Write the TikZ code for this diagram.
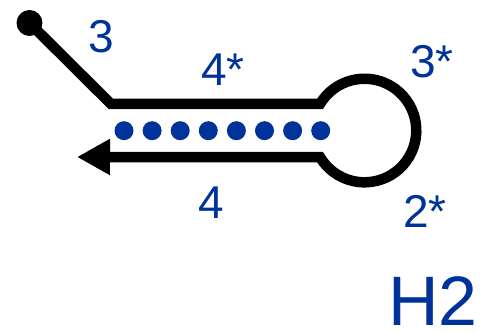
\documentclass[tikz,border=0pt]{standalone}
\usepackage{fontspec}
\setmainfont{Liberation Sans}
\usetikzlibrary{arrows.meta}
\definecolor{lblblue}{RGB}{0,51,153}
\definecolor{dotblue}{RGB}{0,51,153}
\tikzset{
  strand/.style={line width=10.5pt, draw=black, line join=miter},
  lbl/.style={inner sep=0pt, anchor=base west, text=lblblue, font=\fontsize{46}{46}\selectfont},
  biglbl/.style={inner sep=0pt, anchor=base west, text=lblblue, font=\fontsize{70}{70}\selectfont},
  bp/.style={circle, fill=dotblue, inner sep=0pt, minimum size=19pt},
}
\begin{document}
\begin{tikzpicture}[x=1pt,y=1pt]
\useasboundingbox (0,0) rectangle (485,332);
% start dot
\fill[black] (29.5,309) circle (13);
\coordinate (s) at (29.5,309);
\coordinate (c1) at (111,228);
\coordinate (t2) at (320,228);
\coordinate (tip) at (77,175);
\draw[strand, -{Triangle[length=33pt,width=34pt]}] (s) -- (c1) -- (t2)
  arc[start angle=149.2, end angle=-149.2, radius=51.8] -- (tip);
% base pairs
\foreach \i in {0,...,7} {
  \node[bp] (b\i) at (124+28.1*\i,201.3) {};
}
% labels
\node[lbl] (l3) at (88,279) {3};
\node[lbl] (l4s) at (201,246) {4*};
\node[lbl] (l3s) at (410,254) {3*};
\node[lbl] (l4) at (198,113) {4};
\node[lbl] (l2s) at (403,104) {2*};
\node[biglbl] (h2) at (388,6) {H2};
\end{tikzpicture}
\end{document}
